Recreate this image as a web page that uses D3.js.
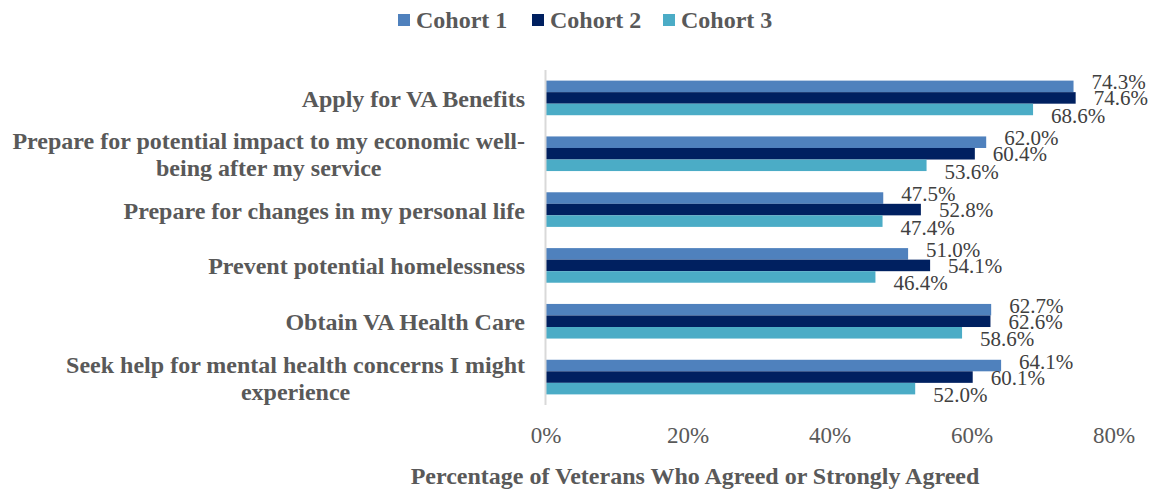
<!DOCTYPE html>
<html>
<head>
<meta charset="utf-8">
<script src="https://cdn.jsdelivr.net/npm/d3@7"></script>
<style>
  body { margin: 0; background: #fff; }
  svg { display: block; font-family: "Liberation Serif", "Times New Roman", serif; }
</style>
</head>
<body>
<div id="chart"></div>
<script>
// data
const categories = [
  ['Apply for VA Benefits'],
  ['Prepare for potential impact to my economic well-', 'being after my service'],
  ['Prepare for changes in my personal life'],
  ['Prevent potential homelessness'],
  ['Obtain VA Health Care'],
  ['Seek help for mental health concerns I might', 'experience'],
];
const seriesNames = ['Cohort 1', 'Cohort 2', 'Cohort 3'];
const cohort1 = [74.3, 62.0, 47.5, 51.0, 62.7, 64.1];
const cohort2 = [74.6, 60.4, 52.8, 54.1, 62.6, 60.1];
const cohort3 = [68.6, 53.6, 47.4, 46.4, 58.6, 52.0];
const xTicks = [0, 20, 40, 60, 80];
const axisTitle = 'Percentage of Veterans Who Agreed or Strongly Agreed';

const colors = ['#4f81bd', '#002060', '#4bacc6'];
const series = [cohort1, cohort2, cohort3];

const width = 1150;
const height = 491;
const plotLeft = 546;
const plotRight = 1114;
const plotTop = 70;
const plotBottom = 405;

const $svg = d3.select('#chart').append('svg')
  .attr('width', width)
  .attr('height', height);

// scales
const x = d3.scaleLinear().domain([0, 80]).range([plotLeft, plotRight]);
const y = d3.scaleBand()
  .domain(d3.range(categories.length))
  .range([plotTop, plotBottom])
  .paddingInner(0.38)
  .paddingOuter(0.19);
const ySub = d3.scaleBand()
  .domain(d3.range(series.length))
  .range([0, y.bandwidth()]);

// legend
const legendX = [398, 532, 663];
const $legend = $svg.append('g').attr('class', 'g-legend');
seriesNames.forEach((name, i) => {
  $legend.append('rect')
    .attr('x', legendX[i]).attr('y', 14)
    .attr('width', 12).attr('height', 12)
    .attr('fill', colors[i]);
  $legend.append('text')
    .attr('x', legendX[i] + 18).attr('y', 28)
    .attr('font-size', 24).attr('font-weight', 'bold')
    .attr('fill', '#595959')
    .text(name);
});

// bars
const $vis = $svg.append('g').attr('class', 'g-vis');
const labelDy = [3, 7.5, 13.5];
series.forEach((vals, s) => {
  $vis.append('g')
    .selectAll('rect')
    .data(vals)
    .join('rect')
    .attr('x', x(0))
    .attr('y', (d, i) => y(i) + ySub(s))
    .attr('width', d => x(d) - x(0))
    .attr('height', ySub.bandwidth())
    .attr('fill', colors[s]);

  $vis.append('g')
    .selectAll('text')
    .data(vals)
    .join('text')
    .attr('x', d => x(d) + 18)
    .attr('y', (d, i) => y(i) + ySub(s) + ySub.bandwidth() / 2 + labelDy[s])
    .attr('font-size', 21)
    .attr('fill', '#404040')
    .text(d => `${d.toFixed(1)}%`);
});

// axis line
$svg.append('line')
  .attr('x1', x(0) - 0.5).attr('x2', x(0) - 0.5)
  .attr('y1', plotTop).attr('y2', plotBottom)
  .attr('stroke', '#d9d9d9')
  .attr('stroke-width', 2);

// category labels
const $cats = $svg.append('g').attr('class', 'g-cats');
categories.forEach((lines, i) => {
  const cy = y(i) + y.bandwidth() / 2;
  const lh = 27;
  const $t = $cats.append('text')
    .attr('text-anchor', 'middle')
    .attr('font-size', 24)
    .attr('font-weight', 'bold')
    .attr('fill', '#595959');
  lines.forEach((line, j) => {
    $t.append('tspan')
      .attr('x', 0)
      .attr('y', cy + 9 + (j - (lines.length - 1) / 2) * lh)
      .text(line);
  });
  // right-align the block while centering the lines
  const w = $t.node().getBBox().width;
  $t.attr('transform', `translate(${525 - w / 2},0)`);
});

// x tick labels
$svg.append('g')
  .selectAll('text')
  .data(xTicks)
  .join('text')
  .attr('x', d => x(d))
  .attr('y', 443)
  .attr('text-anchor', 'middle')
  .attr('font-size', 23)
  .attr('fill', '#595959')
  .text(d => `${d}%`);

// axis title
$svg.append('text')
  .attr('x', 695)
  .attr('y', 484)
  .attr('text-anchor', 'middle')
  .attr('font-size', 24)
  .attr('font-weight', 'bold')
  .attr('fill', '#595959')
  .text(axisTitle);
</script>
</body>
</html>
